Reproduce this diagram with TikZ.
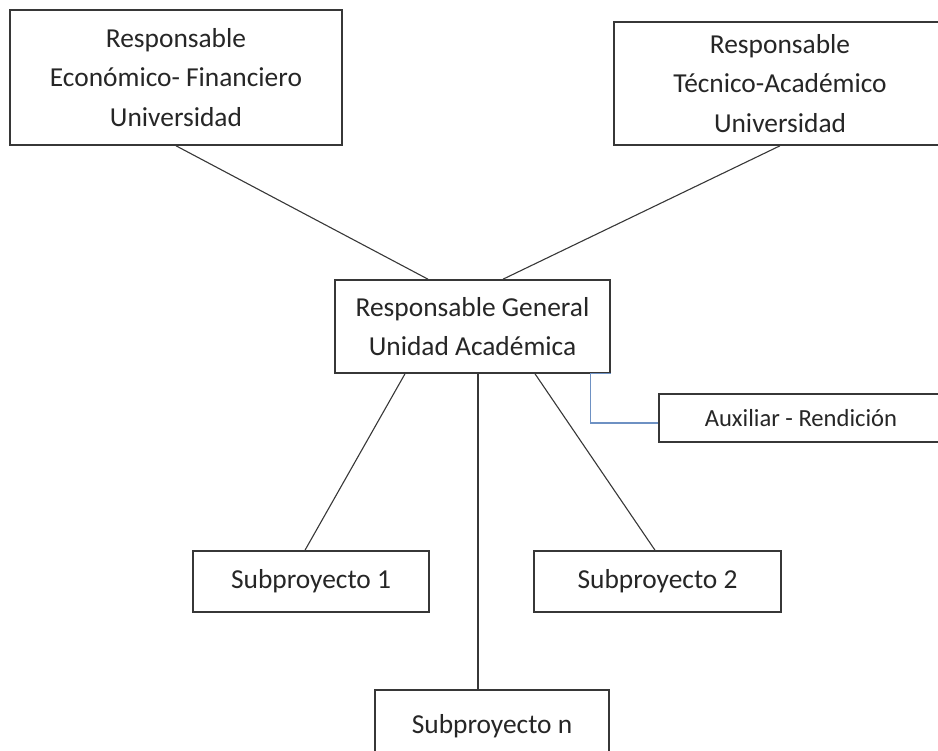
\documentclass[tikz,border=0pt]{standalone}
\usepackage{fontspec}
\setmainfont{Carlito}
\usepackage{xcolor}
\usetikzlibrary{positioning,calc}
\definecolor{lineagris}{RGB}{55,55,55}
\definecolor{azulaux}{RGB}{110,145,195}

\begin{document}
\begin{tikzpicture}[x=1pt,y=-1pt,
    caja/.style={draw=lineagris, line width=1.6pt, fill=white, align=center, inner sep=0pt,
                 text=black!85, font=\fontsize{27.4}{39.5}\selectfont},
    enlace/.style={draw=lineagris, line width=1.1pt}]
    \useasboundingbox (0,0) rectangle (938,751);
    \clip (0,0) rectangle (938,751);

    \node[caja, minimum width=332, minimum height=135] (econ) at (176,77.5) {Responsable\\Económico- Financiero\\Universidad};
    \node[caja, minimum width=332, minimum height=123] (tecn) at (780,83.5) {Responsable\\Técnico-Académico\\Universidad};
    \node[caja, minimum width=275, minimum height=93] (general) at (472.5,326.5) {Responsable General\\Unidad Académica};
    \node[caja, minimum width=284, minimum height=48, font=\fontsize{24.6}{30}\selectfont] (aux) at (801,418) {Auxiliar - Rendición};

    \node[caja, minimum width=236, minimum height=61] (sub1) at (311,581.5) {Subproyecto 1};
    \node[caja, minimum width=247, minimum height=61] (sub2) at (657.5,581.5) {Subproyecto 2};
    \node[caja, minimum width=234, minimum height=76, text depth=0pt] (subn) at (492,728) {\raisebox{9pt}{Subproyecto n}};

    % responsables de la universidad
    \draw[enlace] (econ.south) -- ([xshift=-44.5pt]general.north);
    \draw[enlace] (tecn.south) -- ([xshift=30.5pt]general.north);

    % subproyectos
    \draw[enlace] ([xshift=-67.5pt]general.south) -- ([xshift=-6pt]sub1.north);
    \draw[enlace] ([xshift=5.5pt]general.south) -- ([xshift=-14pt]subn.north);
    \draw[enlace] ([xshift=62.5pt]general.south) -- ([xshift=-2.5pt]sub2.north);

    % auxiliar
    \draw[azulaux, line width=1.3pt] (general.south east) -- ++(-20,0) |- ([yshift=-5pt]aux.west);
\end{tikzpicture}
\end{document}
